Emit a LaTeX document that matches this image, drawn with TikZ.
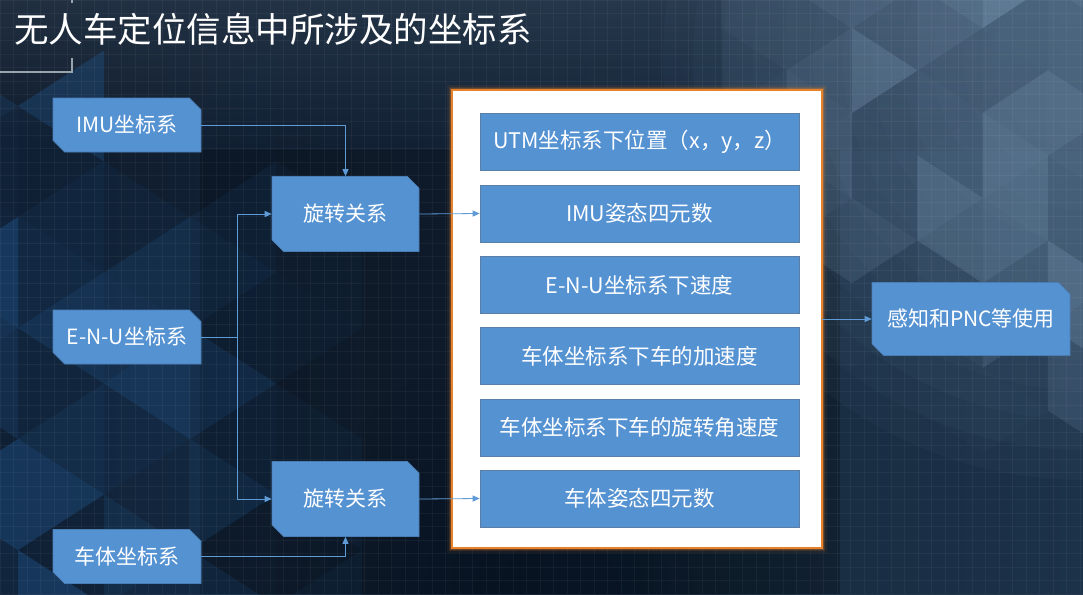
\documentclass[tikz,border=0pt]{standalone}
\usepackage{fontspec}
\setmainfont{Noto Sans CJK SC}
\usetikzlibrary{shapes.misc,arrows.meta,calc}
\definecolor{bgA}{HTML}{0E1B2C}
\definecolor{bgB}{HTML}{1C3249}
\definecolor{boxblue}{HTML}{5592D2}
\definecolor{boxedge}{HTML}{4A7DB3}
\definecolor{lineblue}{HTML}{5F9BD6}
\definecolor{glow}{HTML}{E8822A}
\definecolor{tri}{HTML}{8FAECB}
\definecolor{trib}{HTML}{2669AE}
\definecolor{bracket}{HTML}{9AA4AE}
\tikzset{
  cutbox/.style={chamfered rectangle, chamfered rectangle corners={north east,south west},
    chamfered rectangle xsep=8pt, fill=boxblue, draw=boxedge, line width=0.6pt,
    text=white, font=\fontsize{21}{25}\selectfont, inner sep=0pt},
  srcbox/.style={cutbox, minimum width=148pt, minimum height=54pt},
  rotbox/.style={cutbox, minimum width=147pt, minimum height=75pt},
  infobox/.style={rectangle, fill=boxblue, draw=boxedge!70!gray, line width=0.6pt,
    text=white, font=\fontsize{21.5}{25}\selectfont, minimum width=319pt, minimum height=57pt, inner sep=0pt},
  conn/.style={draw=lineblue, line width=0.8pt, -{Triangle[length=7pt,width=6pt]}},
  plainconn/.style={draw=lineblue, line width=0.8pt},
}
\begin{document}
\begin{tikzpicture}[x=1pt,y=-1pt]
\useasboundingbox (0,0) rectangle (1083,594);
% background
\shade[left color=bgA, right color=bgB] (0,0) rectangle (1083,594);
\shade[top color=bgB!80!white!90!bgA, bottom color=bgA, opacity=0.35] (0,0) rectangle (1083,150);
\fill[black, opacity=0.25] (200,150) rectangle (840,594);
\foreach \r in {420,390,...,80} \fill[bgB!50!tri, opacity=0.07] (1083,60) circle (\r);
\foreach \r in {260,235,...,60} \fill[black!40!bgA, opacity=0.06] (560,594) circle (\r);
% right triangles
\pgfmathsetseed{11}
\foreach \i in {-2,...,3}{
  \foreach \k in {-2,...,3}{
    \pgfmathsetmacro\xa{852+65.3*\i}
    \pgfmathsetmacro\xb{\xa+65.3}
    \pgfmathsetmacro\yl{113-42.5*mod(abs(\i),2)+85*\k}
    \pgfmathsetmacro\yr{113-42.5*mod(abs(\i+1),2)+85*\k}
    \pgfmathsetmacro\fade{max(0,min(1,1.5-(1083-\xa)/300-max(0,\yl-150)/200))}
    \pgfmathsetmacro\opa{(0.1+0.35*rnd)*\fade}
    \pgfmathsetmacro\opb{(0.1+0.35*rnd)*\fade}
    \fill[tri, opacity=\opa] (\xa,\yl) -- (\xa,\yl+85) -- (\xb,\yl+42.5) -- cycle;
    \fill[tri, opacity=\opb] (\xb,\yr) -- (\xb,\yr+85) -- (\xa,\yr+42.5) -- cycle;
  }
}
% left triangles
\foreach \i in {-1,...,3}{
  \foreach \k in {-1,...,3}{
    \pgfmathsetmacro\xa{18+86*\i}
    \pgfmathsetmacro\xb{\xa+86}
    \pgfmathsetmacro\yl{217-55.5*mod(abs(\i),2)+111*\k}
    \pgfmathsetmacro\yr{217-55.5*mod(abs(\i+1),2)+111*\k}
    \pgfmathsetmacro\fade{max(0,min(1,1.3-\xa/260-max(0,160-\yl)/120))}
    \pgfmathsetmacro\opa{(0.06+0.35*rnd)*\fade}
    \pgfmathsetmacro\opb{(0.06+0.35*rnd)*\fade}
    \fill[trib, opacity=\opa] (\xa,\yl) -- (\xa,\yl+111) -- (\xb,\yl+55.5) -- cycle;
    \fill[trib, opacity=\opb] (\xb,\yr) -- (\xb,\yr+111) -- (\xa,\yr+55.5) -- cycle;
  }
}
% grid
\foreach \gx in {0,13.5,...,1083} \draw[white, opacity=0.045, line width=0.5pt] (\gx,0) -- (\gx,594);
\foreach \gy in {0,13.5,...,594} \draw[white, opacity=0.045, line width=0.5pt] (0,\gy) -- (1083,\gy);
% title bracket
\draw[bracket, line width=1.6pt] (0,72) -- (72,72) -- (72,58);
\draw[bracket, line width=1.6pt] (72,0) -- (72,3);
% title
\node[anchor=west, text=white, font=\fontsize{34.5}{40}\selectfont, inner sep=0pt] (title) at (14,29) {无人车定位信息中所涉及的坐标系};
% outer container
\node[rectangle, minimum width=370pt, minimum height=458pt, inner sep=0pt] (outer) at (637,319) {};
\foreach \w/\o in {9/0.08,6/0.15,4/0.25} \draw[glow, line width=\w pt, opacity=\o] (outer.north west) rectangle (outer.south east);
\draw[glow, line width=1.6pt, fill=white] (outer.north west) rectangle (outer.south east);
% inner boxes
\node[infobox] (utm) at (639.5,142) {UTM坐标系下位置（x，y，z）};
\node[infobox] (imuq) at (639.5,213.5) {IMU姿态四元数};
\node[infobox] (enuv) at (639.5,285) {E-N-U坐标系下速度};
\node[infobox] (acc) at (639.5,356) {车体坐标系下车的加速度};
\node[infobox] (gyro) at (639.5,427.5) {车体坐标系下车的旋转角速度};
\node[infobox] (bodyq) at (639.5,498.5) {车体姿态四元数};
% left boxes
\node[srcbox] (imu) at (127,125) {IMU坐标系};
\node[srcbox] (enu) at (127,337) {E-N-U坐标系};
\node[srcbox] (body) at (127,556.5) {车体坐标系};
\node[rotbox] (rot1) at (345.5,214) {旋转关系};
\node[rotbox] (rot2) at (345.5,499) {旋转关系};
\node[cutbox, minimum width=198pt, minimum height=73pt] (pnc) at (971,319) {感知和PNC等使用};
% connectors
\coordinate (junc) at (237,337);
\draw[conn] (imu.east) -| (rot1.north);
\draw[plainconn] (enu.east) -- (junc);
\draw[conn] (junc) |- (rot1.west);
\draw[conn] (junc) |- (rot2.west);
\draw[conn] (body.east) -| (rot2.south);
\draw[conn] (rot1.east) -- (imuq.west);
\draw[conn] (rot2.east) -- (bodyq.west);
\draw[conn] (outer.east) -- (pnc.west);
\end{tikzpicture}
\end{document}
